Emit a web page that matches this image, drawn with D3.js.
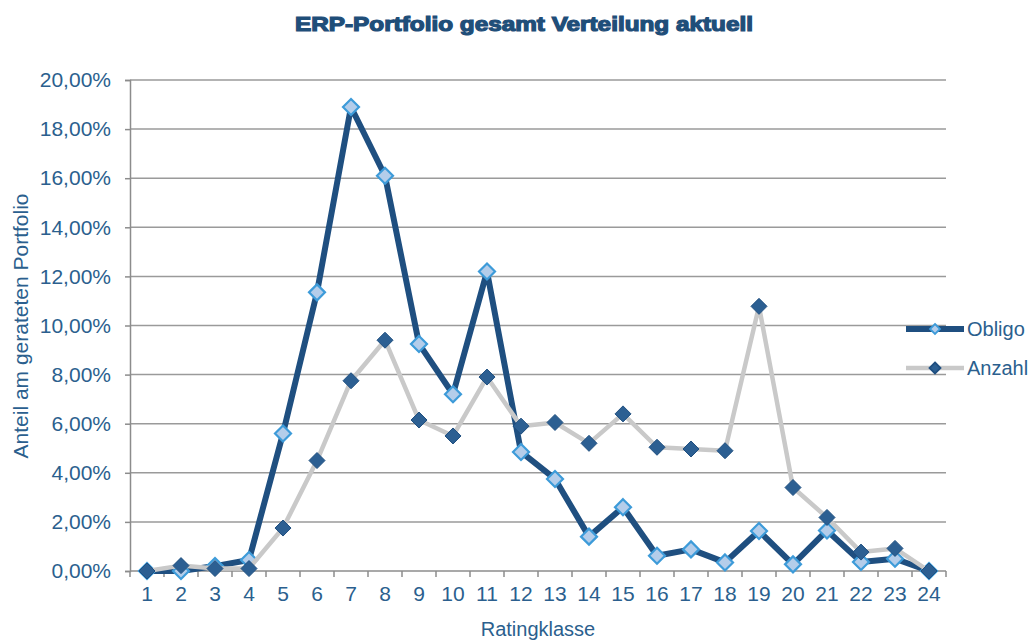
<!DOCTYPE html>
<html>
<head>
<meta charset="utf-8">
<script src="https://cdn.jsdelivr.net/npm/d3@7"></script>
<style>
  html, body { margin: 0; padding: 0; background: #fff; }
  svg { display: block; }
  text { font-family: "Liberation Sans", Arial, sans-serif; }
</style>
</head>
<body>
<svg id="chart" width="1033" height="640"></svg>
<script>
const categories = ["1","2","3","4","5","6","7","8","9","10","11","12","13","14","15","16","17","18","19","20","21","22","23","24"];
const obligo = [0.00, 0.00, 0.20, 0.45, 5.60, 11.35, 18.90, 16.10, 9.25, 7.20, 12.20, 4.85, 3.75, 1.40, 2.60, 0.62, 0.88, 0.35, 1.63, 0.27, 1.65, 0.37, 0.50, 0.00];
const anzahl = [0.00, 0.22, 0.10, 0.10, 1.75, 4.50, 7.75, 9.40, 6.15, 5.50, 7.90, 5.90, 6.05, 5.20, 6.40, 5.04, 4.97, 4.90, 10.78, 3.40, 2.18, 0.77, 0.92, 0.00];
const yTicks = [0, 2, 4, 6, 8, 10, 12, 14, 16, 18, 20];
const seriesNames = ["Obligo", "Anzahl"];
const title = "ERP-Portfolio gesamt Verteilung aktuell";
const yTitle = "Anteil am gerateten Portfolio";
const xTitle = "Ratingklasse";

(function () {
const textColor = "#2b5f8e";
const svg = d3.select("#chart");
const pL = 130, pR = 946, pT = 80, pB = 571;

const x = d3.scaleBand().domain(categories).range([pL, pR]).padding(0);
const y = d3.scaleLinear().domain([0, 20]).range([pB, pT]);
const fmt = v => d3.format(".2f")(v).replace(".", ",") + "%";

// gridlines
svg.append("g").selectAll("line").data(yTicks.filter(d => d > 0)).join("line")
  .attr("x1", pL).attr("x2", pR)
  .attr("y1", d => y(d)).attr("y2", d => y(d))
  .attr("stroke", "#9a9a9a").attr("stroke-width", 1.5);

// y axis
const yAxis = svg.append("g").attr("transform", `translate(${pL},0)`)
  .call(d3.axisLeft(y).tickValues(yTicks).tickFormat(fmt).tickSize(5).tickPadding(14));
yAxis.select(".domain").attr("stroke", "#8c8c8c").attr("stroke-width", 1.5);
yAxis.selectAll(".tick line").attr("stroke", "#8c8c8c").attr("stroke-width", 1.5);
yAxis.selectAll(".tick text").attr("fill", textColor).attr("font-size", 21)
  .attr("font-family", "Liberation Sans, Arial, sans-serif");

// x axis (ticks at category boundaries)
const xAxisG = svg.append("g").attr("transform", `translate(0,${pB})`);
xAxisG.append("line").attr("x1", pL).attr("x2", pR).attr("y1", 0).attr("y2", 0)
  .attr("stroke", "#8c8c8c").attr("stroke-width", 1.5);
const bounds = categories.map(c => x(c)).concat([x(categories[categories.length - 1]) + x.bandwidth()]);
xAxisG.selectAll("line.tk").data(bounds).join("line").attr("class", "tk")
  .attr("x1", d => d).attr("x2", d => d).attr("y1", 0).attr("y2", 6)
  .attr("stroke", "#8c8c8c").attr("stroke-width", 1.5);
xAxisG.selectAll("text").data(categories).join("text")
  .attr("x", d => x(d) + x.bandwidth() / 2).attr("y", 30)
  .attr("text-anchor", "middle").attr("fill", textColor).attr("font-size", 21)
  .text(d => d);

const cx = (d, i) => x(categories[i]) + x.bandwidth() / 2;
const line = d3.line().x((d, i) => cx(d, i)).y(d => y(d));
const diamond = (r) => `M0,${-r}L${r},0L0,${r}L${-r},0Z`;

// Obligo
svg.append("path").datum(obligo).attr("d", line).attr("fill", "none")
  .attr("stroke", "#1f4f80").attr("stroke-width", 6).attr("stroke-linejoin", "round");
svg.append("g").selectAll("path").data(obligo).join("path")
  .attr("transform", (d, i) => `translate(${cx(d, i)},${y(d)})`)
  .attr("d", diamond(8)).attr("fill", "#b4cdea").attr("stroke", "#3d9bd9").attr("stroke-width", 2.2);

// Anzahl
svg.append("path").datum(anzahl).attr("d", line).attr("fill", "none")
  .attr("stroke", "#c9c9c9").attr("stroke-width", 4.5).attr("stroke-linejoin", "round");
svg.append("g").selectAll("path").data(anzahl).join("path")
  .attr("transform", (d, i) => `translate(${cx(d, i)},${y(d)})`)
  .attr("d", diamond(8)).attr("fill", "#2c5f92").attr("stroke", "#1f4f80").attr("stroke-width", 1);

// Legend
const leg = svg.append("g");
const legItems = [
  { name: seriesNames[0], y: 329, stroke: "#1f4f80", sw: 6, fill: "#b4cdea", mstroke: "#3d9bd9", r: 5 },
  { name: seriesNames[1], y: 368, stroke: "#c9c9c9", sw: 4.5, fill: "#2c5f92", mstroke: "#1f4f80", r: 5.5 }
];
legItems.forEach(it => {
  leg.append("line").attr("x1", 906).attr("x2", 964).attr("y1", it.y).attr("y2", it.y)
    .attr("stroke", it.stroke).attr("stroke-width", it.sw);
  leg.append("path").attr("transform", `translate(935,${it.y})`).attr("d", diamond(it.r))
    .attr("fill", it.fill).attr("stroke", it.mstroke).attr("stroke-width", 1.8);
  leg.append("text").attr("x", 967).attr("y", it.y + 7).attr("fill", textColor)
    .attr("font-size", 20).text(it.name);
});

// Titles
svg.append("text").attr("x", 524).attr("y", 31).attr("text-anchor", "middle")
  .attr("fill", "#1f4e79").attr("font-size", 20).attr("font-weight", "bold")
  .attr("textLength", 458).attr("lengthAdjust", "spacingAndGlyphs")
  .style("paint-order", "stroke").attr("stroke", "#1f4e79").attr("stroke-width", 1.2)
  .text(title);
svg.append("text").attr("transform", "translate(28,326) rotate(-90)")
  .attr("text-anchor", "middle").attr("fill", textColor).attr("font-size", 21)
  .text(yTitle);
svg.append("text").attr("x", 538).attr("y", 636).attr("text-anchor", "middle")
  .attr("fill", textColor).attr("font-size", 20).text(xTitle);
})();
</script>
</body>
</html>
